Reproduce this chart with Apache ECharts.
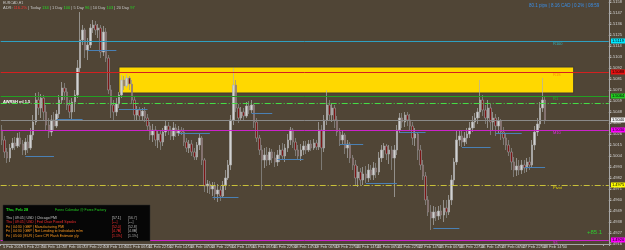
<!DOCTYPE html>
<html>
<head>
<meta charset="utf-8">
<script src="https://cdn.jsdelivr.net/npm/echarts@6/dist/echarts.min.js"></script>
<style>
  html, body { margin: 0; padding: 0; background: #504536; }
  #chart { width: 625px; height: 250px; }
</style>
</head>
<body>
<div id="chart"></div>
<script>
// EURCAD, two-hour bars: [open, close, low, high]
const candles = [
  [1.5030,1.5020,1.5015,1.5035],[1.5020,1.5008,1.5002,1.5024],[1.5008,1.5002,1.4997,1.5012],[1.5002,1.5012,1.4998,1.5016],
  [1.5012,1.5017,1.5010,1.5022],[1.5017,1.5014,1.5010,1.5023],[1.5014,1.5022,1.5012,1.5027],[1.5022,1.5016,1.5013,1.5028],
  [1.5016,1.5010,1.5005,1.5020],[1.5010,1.5018,1.5005,1.5022],[1.5018,1.5012,1.5007,1.5025],[1.5012,1.5025,1.5010,1.5032],
  [1.5025,1.5038,1.5020,1.5045],[1.5038,1.5060,1.5035,1.5067],[1.5060,1.5052,1.5045,1.5068],[1.5052,1.5062,1.5042,1.5066],
  [1.5062,1.5048,1.5040,1.5065],[1.5048,1.5035,1.5030,1.5055],[1.5035,1.5028,1.5022,1.5042],[1.5028,1.5040,1.5024,1.5045],
  [1.5040,1.5034,1.5030,1.5048],[1.5034,1.5046,1.5032,1.5050],[1.5046,1.5060,1.5042,1.5065],[1.5060,1.5072,1.5056,1.5078],
  [1.5072,1.5068,1.5060,1.5077],[1.5068,1.5055,1.5050,1.5072],[1.5055,1.5048,1.5042,1.5060],[1.5048,1.5058,1.5040,1.5062],
  [1.5058,1.5065,1.5048,1.5070],[1.5065,1.5092,1.5062,1.5100],[1.5092,1.5120,1.5088,1.5148],[1.5120,1.5130,1.5115,1.5135],
  [1.5130,1.5110,1.5102,1.5132],[1.5110,1.5115,1.5100,1.5122],[1.5115,1.5132,1.5112,1.5136],[1.5132,1.5135,1.5127,1.5140],
  [1.5135,1.5130,1.5125,1.5139],[1.5130,1.5132,1.5122,1.5136],[1.5132,1.5108,1.5102,1.5135],[1.5108,1.5128,1.5104,1.5134],
  [1.5128,1.5102,1.5098,1.5132],[1.5102,1.5070,1.5066,1.5105],[1.5070,1.5055,1.5042,1.5075],[1.5055,1.5048,1.5040,1.5060],
  [1.5048,1.5056,1.5044,1.5062],[1.5056,1.5065,1.5052,1.5068],[1.5065,1.5080,1.5062,1.5085],[1.5080,1.5074,1.5070,1.5084],
  [1.5074,1.5082,1.5072,1.5086],[1.5082,1.5076,1.5070,1.5084],[1.5076,1.5060,1.5056,1.5080],[1.5060,1.5045,1.5040,1.5064],
  [1.5045,1.5050,1.5040,1.5054],[1.5050,1.5044,1.5039,1.5053],[1.5044,1.5049,1.5040,1.5052],[1.5049,1.5042,1.5038,1.5053],
  [1.5042,1.5034,1.5030,1.5046],[1.5034,1.5025,1.5020,1.5038],[1.5025,1.5030,1.5018,1.5036],[1.5030,1.5020,1.5014,1.5034],
  [1.5020,1.5026,1.5012,1.5030],[1.5026,1.5018,1.5010,1.5030],[1.5018,1.5028,1.5014,1.5032],[1.5028,1.5034,1.5024,1.5040],
  [1.5034,1.5030,1.5025,1.5038],[1.5030,1.5024,1.5020,1.5034],[1.5024,1.5032,1.5020,1.5038],[1.5032,1.5027,1.5023,1.5036],
  [1.5027,1.5030,1.5024,1.5034],[1.5030,1.5028,1.5025,1.5033],[1.5028,1.5018,1.5014,1.5032],[1.5018,1.5012,1.5008,1.5022],
  [1.5012,1.5016,1.5007,1.5020],[1.5016,1.5008,1.5004,1.5020],[1.5008,1.5003,1.5000,1.5012],[1.5003,1.5015,1.5000,1.5018],
  [1.5015,1.5022,1.5010,1.5026],[1.5022,1.5000,1.4995,1.5024],[1.5000,1.4974,1.4968,1.5002],[1.4974,1.4976,1.4967,1.4980],
  [1.4976,1.4971,1.4966,1.4979],[1.4971,1.4974,1.4964,1.4978],[1.4974,1.4966,1.4960,1.4978],[1.4966,1.4970,1.4958,1.4976],
  [1.4970,1.4964,1.4959,1.4974],[1.4964,1.4975,1.4962,1.4979],[1.4975,1.4982,1.4970,1.4990],[1.4982,1.4995,1.4980,1.5000],
  [1.4995,1.5040,1.4990,1.5045],[1.5040,1.5075,1.5035,1.5092],[1.5075,1.5052,1.5048,1.5080],[1.5052,1.5042,1.5037,1.5056],
  [1.5042,1.5048,1.5039,1.5053],[1.5048,1.5044,1.5040,1.5052],[1.5044,1.5054,1.5042,1.5058],[1.5054,1.5050,1.5046,1.5059],
  [1.5050,1.5055,1.5047,1.5060],[1.5055,1.5038,1.5032,1.5056],[1.5038,1.5022,1.5018,1.5042],[1.5022,1.5010,1.5005,1.5025],
  [1.5010,1.5000,1.4970,1.5015],[1.5000,1.5005,1.4992,1.5012],[1.5005,1.5000,1.4994,1.5013],[1.5000,1.5008,1.4995,1.5012],
  [1.5008,1.5002,1.4997,1.5011],[1.5002,1.4998,1.4993,1.5008],[1.4998,1.5005,1.4994,1.5010],[1.5005,1.5010,1.4998,1.5015],
  [1.5010,1.5004,1.5000,1.5017],[1.5004,1.5012,1.4998,1.5016],[1.5012,1.5020,1.5008,1.5026],[1.5020,1.5030,1.5015,1.5033],
  [1.5030,1.5018,1.5012,1.5032],[1.5018,1.5010,1.5004,1.5022],[1.5010,1.5004,1.5000,1.5015],[1.5004,1.5010,1.4999,1.5016],
  [1.5010,1.5014,1.5005,1.5019],[1.5014,1.5010,1.5006,1.5019],[1.5010,1.5016,1.5008,1.5020],[1.5016,1.5012,1.5009,1.5020],
  [1.5012,1.5017,1.5010,1.5021],[1.5017,1.5013,1.5010,1.5020],[1.5013,1.5030,1.5010,1.5038],[1.5030,1.5012,1.4990,1.5035],
  [1.5012,1.5040,1.5008,1.5045],[1.5040,1.5055,1.5035,1.5070],[1.5055,1.5045,1.5040,1.5060],[1.5045,1.5052,1.5038,1.5057],
  [1.5052,1.5040,1.5032,1.5055],[1.5040,1.5028,1.5024,1.5044],[1.5028,1.5020,1.5014,1.5032],[1.5020,1.5025,1.5015,1.5029],
  [1.5025,1.5012,1.5006,1.5027],[1.5012,1.5016,1.5002,1.5020],[1.5016,1.5002,1.4997,1.5018],[1.5002,1.4995,1.4990,1.5005],
  [1.4995,1.4982,1.4975,1.5000],[1.4982,1.4988,1.4973,1.4994],[1.4988,1.4980,1.4974,1.4992],[1.4980,1.4986,1.4975,1.4993],
  [1.4986,1.4982,1.4977,1.4994],[1.4982,1.4990,1.4978,1.4996],[1.4990,1.4985,1.4980,1.4995],[1.4985,1.4992,1.4980,1.4998],
  [1.4992,1.4988,1.4982,1.4997],[1.4988,1.5002,1.4985,1.5008],[1.5002,1.5010,1.4998,1.5015],[1.5010,1.5014,1.5002,1.5017],
  [1.5014,1.5006,1.5000,1.5016],[1.5006,1.5010,1.4996,1.5015],[1.5010,1.5002,1.4990,1.5014],[1.5002,1.5010,1.4963,1.5015],
  [1.5010,1.5030,1.5005,1.5035],[1.5030,1.5042,1.5027,1.5047],[1.5042,1.5038,1.5032,1.5047],[1.5038,1.5045,1.5033,1.5048],
  [1.5045,1.5040,1.5034,1.5048],[1.5040,1.5034,1.5030,1.5046],[1.5034,1.5022,1.5015,1.5038],[1.5022,1.5026,1.5014,1.5032],
  [1.5026,1.5010,1.5000,1.5028],[1.5010,1.4995,1.4990,1.5015],[1.4995,1.4984,1.4980,1.5000],[1.4984,1.4960,1.4955,1.4988],
  [1.4960,1.4948,1.4944,1.4964],[1.4948,1.4942,1.4930,1.4955],[1.4942,1.4948,1.4935,1.4954],[1.4948,1.4944,1.4939,1.4953],
  [1.4944,1.4949,1.4940,1.4954],[1.4949,1.4945,1.4941,1.4955],[1.4945,1.4952,1.4938,1.4960],[1.4952,1.4948,1.4942,1.4960],
  [1.4948,1.4960,1.4945,1.4965],[1.4960,1.4980,1.4955,1.4985],[1.4980,1.4998,1.4975,1.5002],[1.4998,1.5020,1.4995,1.5030],
  [1.5020,1.5024,1.5014,1.5030],[1.5024,1.5018,1.5013,1.5029],[1.5018,1.5022,1.5014,1.5028],[1.5022,1.5026,1.5016,1.5032],
  [1.5026,1.5032,1.5022,1.5038],[1.5032,1.5038,1.5028,1.5044],[1.5038,1.5042,1.5032,1.5047],[1.5042,1.5048,1.5036,1.5052],
  [1.5048,1.5060,1.5042,1.5080],[1.5060,1.5050,1.5044,1.5065],[1.5050,1.5042,1.5036,1.5055],[1.5042,1.5052,1.5032,1.5060],
  [1.5052,1.5038,1.5025,1.5056],[1.5038,1.5042,1.5030,1.5048],[1.5042,1.5034,1.5024,1.5046],[1.5034,1.5039,1.5026,1.5043],
  [1.5039,1.5028,1.5020,1.5041],[1.5028,1.5022,1.5015,1.5033],[1.5022,1.5015,1.5010,1.5027],[1.5015,1.5008,1.5004,1.5020],
  [1.5008,1.4998,1.4990,1.5012],[1.4998,1.4990,1.4983,1.5003],[1.4990,1.4994,1.4984,1.5002],[1.4994,1.4990,1.4985,1.5000],
  [1.4990,1.4995,1.4986,1.5000],[1.4995,1.4992,1.4987,1.5000],[1.4992,1.4998,1.4988,1.5002],[1.4998,1.4995,1.4990,1.5003],
  [1.4995,1.5015,1.4992,1.5020],[1.5015,1.5028,1.5010,1.5034],[1.5028,1.5036,1.5024,1.5042],[1.5036,1.5052,1.5032,1.5058],
  [1.5052,1.5060,1.5048,1.5082],[1.5060,1.5040,1.5036,1.5064]
];

// one label every 8 bars (16 hours)
const tickLabels = ['5 Feb 2019', '5 Feb 22:00', '6 Feb 14:00', '7 Feb 06:00', '7 Feb 22:00', '8 Feb 14:00',
  '11 Feb 06:00', '11 Feb 22:00', '12 Feb 14:00', '13 Feb 06:00', '13 Feb 22:00', '14 Feb 14:00',
  '15 Feb 06:00', '15 Feb 22:00', '18 Feb 14:00', '19 Feb 06:00', '19 Feb 22:00', '20 Feb 14:00',
  '21 Feb 06:00', '21 Feb 22:00', '22 Feb 14:00', '25 Feb 06:00', '25 Feb 22:00', '26 Feb 14:00',
  '27 Feb 06:00', '27 Feb 22:00', '28 Feb 14:00'];

// horizontal levels
const levelNames = ['R100', 'R1S', 'R1', '', '', 'M10', 'Pivot', 'S1'];
const levelPrices = [1.5119, 1.5088, 1.5064, 1.5057, 1.5040, 1.5030, 1.4975, 1.4920];

// short support / resistance segments: from bar, to bar, price
const segFrom = [9, 21, 33, 45, 68, 81, 96, 106, 130, 140, 153, 166, 177, 190, 201];
const segTo = [20, 31, 44, 56, 80, 91, 104, 116, 139, 152, 163, 176, 188, 200, 209];
const segPrice = [1.5004, 1.5041, 1.5110, 1.5051, 1.5027, 1.4963, 1.5047, 1.5001, 1.5016, 1.4977, 1.5028, 1.4932, 1.5013, 1.5027, 1.4993];

// supply zone
const zoneBars = [45, 220];
const zonePrices = [1.5093, 1.5067];

const adrValues = ['116.2%', '134', '100', '96', '103', '97'];
const calendarRows = [
  ['Thu | 09:45 | USD | Chicago PMI', '[57.1]', '[56.7]'],
  ['Thu | 09:45 | USD | Fed Chair Powell Speaks', '[---]', '[---]'],
  ['Fri | 04:30 | GBP | Manufacturing PMI', '[52.0]', '[52.8]'],
  ['Fri | 04:30 | GBP | Net Lending to Individuals m/m', '[4.7B]', '[4.8B]'],
  ['Fri | 05:00 | EUR | Core CPI Flash Estimate y/y', '[1.1%]', '[1.1%]']
];

const levelStyle = [
  { line: '#2f9fc0', type: 'solid', text: '#2fb0b8', box: '#00e8ff' },
  { line: '#d42020', type: 'solid', text: '#ff8c00', box: '#e81010' },
  { line: '#23a023', type: 'solid', text: '#22bb22', box: '#22cc22' },
  { line: '#44dd44', type: [6, 2, 1, 2], text: null, box: null },
  { line: '#8a8a8a', type: 'solid', text: null, box: '#f0f0f0' },
  { line: '#cc22cc', type: 'solid', text: '#dd33dd', box: '#ff00ff' },
  { line: '#c8c03a', type: [6, 2, 1, 2], text: '#e6d600', box: '#ffff00' },
  { line: '#cc22cc', type: 'solid', text: '#dd33dd', box: '#ff00ff' }
];

const FONT = '"Liberation Sans", Arial, sans-serif';
const nCats = 234;
const cats = [];
for (let i = 0; i < nCats; i++) cats.push(String(i));

const chart = echarts.init(document.getElementById('chart'));

const lineData = levelPrices.map((p, i) => ({
  yAxis: p,
  lineStyle: { color: levelStyle[i].line, type: levelStyle[i].type, width: 1 }
}));
segFrom.forEach((f, i) => {
  lineData.push([
    { coord: [String(f), segPrice[i]], lineStyle: { color: '#4a80b4', width: 1, type: 'solid' } },
    { coord: [String(segTo[i]), segPrice[i]] }
  ]);
});

chart.setOption({
  animation: false,
  backgroundColor: '#504536',
  grid: { left: 0, right: 14, top: 0, bottom: 6 },
  xAxis: {
    type: 'category',
    data: cats,
    boundaryGap: true,
    axisLine: { lineStyle: { color: '#a8a8a8', width: 1 } },
    axisTick: { show: true, interval: 7, length: 2, lineStyle: { color: '#a8a8a8' } },
    axisLabel: {
      interval: 7,
      fontSize: 4,
      fontFamily: FONT,
      color: '#d6d6d6',
      margin: 1,
      align: 'left',
      padding: [0, 0, 0, 1],
      formatter: (v, i) => tickLabels[i / 8] || ''
    },
    splitLine: { show: false }
  },
  yAxis: {
    type: 'value',
    position: 'right',
    min: 1.4916,
    max: 1.5160,
    interval: 0.0011,
    axisLine: { show: true, lineStyle: { color: '#a8a8a8', width: 1 } },
    axisTick: { show: true, length: 2, lineStyle: { color: '#a8a8a8' } },
    axisLabel: {
      fontSize: 4,
      fontFamily: FONT,
      color: '#d6d6d6',
      margin: 1,
      showMaxLabel: false,
      formatter: v => v.toFixed(4)
    },
    splitLine: { show: false }
  },
  series: [
    {
      type: 'line',
      data: [],
      z: 1,
      silent: true,
      markArea: {
        silent: true,
        itemStyle: { color: '#ffd800', borderColor: '#3e3a32', borderWidth: 1 },
        data: [[
          { xAxis: String(zoneBars[0]), yAxis: zonePrices[0] },
          { xAxis: String(zoneBars[1]), yAxis: zonePrices[1] }
        ]]
      }
    },
    {
      type: 'candlestick',
      z: 2,
      barWidth: 2,
      data: candles,
      itemStyle: {
        color: '#d2d2d2',
        color0: '#7c1414',
        borderColor: '#b0b0b0',
        borderColor0: '#909090',
        borderWidth: 0.7
      }
    },
    {
      type: 'line',
      data: [],
      z: 3,
      silent: true,
      markLine: {
        silent: true,
        symbol: 'none',
        precision: 4,
        label: { show: false },
        data: lineData
      }
    }
  ]
});

// texts tied to price levels
const graphics = [];
levelPrices.forEach((p, i) => {
  const y = chart.convertToPixel({ yAxisIndex: 0 }, p);
  const st = levelStyle[i];
  if (levelNames[i] && st.text) {
    graphics.push({
      type: 'text', x: 553, y: y + 1, z: 50,
      style: { text: levelNames[i], fill: st.text, font: '4px ' + FONT }
    });
  }
  if (st.box) {
    graphics.push({
      type: 'text', x: 611, y: y - 2.5, z: 60,
      style: {
        text: p.toFixed(4), fill: '#000', font: '4px ' + FONT,
        backgroundColor: st.box, padding: [0.5, 1, 0.5, 1], width: 12
      }
    });
  }
});

// header
graphics.push({
  type: 'text', x: 3, y: 1, z: 50,
  style: { text: 'EURCAD,H1', fill: '#c8c8c8', font: '3.5px ' + FONT }
});
graphics.push({
  type: 'text', x: 3, y: 6, z: 50,
  style: {
    text: '{g|ADR: }{r|' + adrValues[0] + '}{g| | Today }{v|' + adrValues[1] + '}{g| | 1 Day }{v|' + adrValues[2] +
      '}{g| | 5 Day }{v|' + adrValues[3] + '}{g| | 10 Day }{v|' + adrValues[4] + '}{g| | 20 Day }{v|' + adrValues[5] + '}',
    font: '4px ' + FONT,
    rich: {
      g: { fill: '#c8c8c8', font: '4px ' + FONT },
      r: { fill: '#ff3030', font: '4px ' + FONT },
      v: { fill: '#22dd22', font: '4px ' + FONT }
    }
  }
});
graphics.push({
  type: 'text', x: 529, y: 3, z: 50,
  style: { text: '80.1 pips | 8.16 CAD | 0.2% | 08:59', fill: '#3a8ee6', font: '4.5px ' + FONT }
});
graphics.push({
  type: 'text', x: 3, y: 100, z: 50,
  style: { text: 'AWRSH ml 1.5', fill: '#ffffff', font: 'bold 4px ' + FONT }
});
graphics.push({
  type: 'text', x: 587, y: 229, z: 50,
  style: { text: '+85.1', fill: '#2ecc2e', font: '6px ' + FONT }
});

// calendar panel
graphics.push({
  type: 'rect', z: 40,
  shape: { x: 3, y: 205, width: 147, height: 36 },
  style: { fill: '#060606', stroke: '#2a2a2a', lineWidth: 0.5 }
});
graphics.push({
  type: 'text', x: 6, y: 208, z: 50,
  style: { text: 'Thu, Feb 28', fill: '#22dd22', font: 'bold 4px ' + FONT }
});
graphics.push({
  type: 'text', x: 55, y: 208.5, z: 50,
  style: { text: 'Forex Calendar @ Forex Factory', fill: '#22cc22', font: '3.5px ' + FONT }
});
const rowColors = ['#c8c8c8', '#ff3030', '#ff9a20', '#ff9a20', '#ff9a20'];
const rowTops = [216, 220.5, 225, 229.5, 234];
calendarRows.forEach((r, i) => {
  graphics.push({
    type: 'text', x: 6, y: rowTops[i], z: 50,
    style: { text: r[0], fill: rowColors[i], font: '3.5px ' + FONT }
  });
  graphics.push({
    type: 'text', x: 112, y: rowTops[i], z: 50,
    style: { text: r[1], fill: i === 0 ? '#c8c8c8' : '#ff3030', font: '3.5px ' + FONT }
  });
  graphics.push({
    type: 'text', x: 128, y: rowTops[i], z: 50,
    style: { text: r[2], fill: '#b0b0b0', font: '3.5px ' + FONT }
  });
});

chart.setOption({ graphic: graphics });
</script>
</body>
</html>
